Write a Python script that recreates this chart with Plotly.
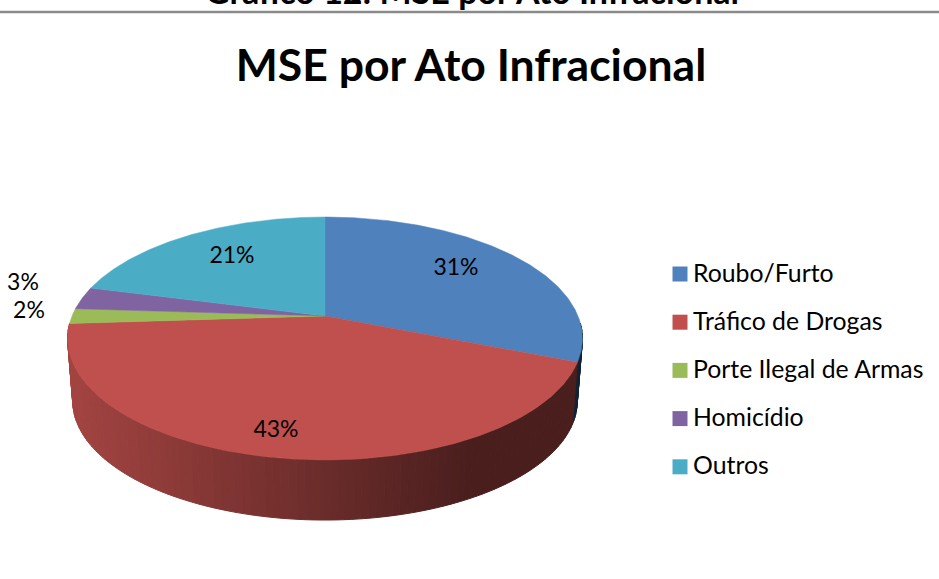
import numpy as np
import plotly.graph_objects as go

# ---- data ----
categories = ["Roubo/Furto", "Tráfico de Drogas", "Porte Ilegal de Armas", "Homicídio", "Outros"]
values = [31, 43, 2, 3, 21]
header_text = "Gráfico 12: MSE por Ato Infracional"
title_text = "MSE por Ato Infracional"

# ---- styles / layout constants ----
face_colors = ["#4f81bd", "#c0504d", "#9bbb59", "#8064a2", "#4bacc6"]
FONT = "Lato"
CX, CY, A, B, K = 325.0, 316.0, 253.0, 117.3, 0.185   # projected pie
WALL_DY, WALL_S = 63.0, 0.98
label_pos = [(456, 269), (276, 431), (29, 312), (23, 284), (232, 257)]
legend_x, legend_text_x, legend_y0, legend_dy = 680, 693, 274, 48.2
legend_text_dy = 1.5


def project(theta):
    u, v = np.sin(theta), np.cos(theta)
    w = 1 + K * v
    return CX + A * u / w, CY - B * v / w


def lower(x, y):
    return CX + (x - CX) * WALL_S, CY + WALL_DY + (y - CY) * WALL_S


def shade(rgb, x):
    """Darken wall colour from left to right like the 3-D lighting."""
    t = np.clip((x - 70) / 400, 0, 1)
    f = 0.85 + (0.385 - 0.85) * t
    return "rgb(%d,%d,%d)" % tuple(int(c * f) for c in rgb)


def to_rgb(h):
    return tuple(int(h[i:i + 2], 16) for i in (1, 3, 5))


fig = go.Figure()
total = sum(values)
edges = np.concatenate([[0], np.cumsum(values)]) / total * 2 * np.pi

# side wall
for i, col in enumerate(face_colors):
    n = max(2, int((edges[i + 1] - edges[i]) / np.radians(1.5)))
    th = np.linspace(edges[i], edges[i + 1], n + 1)
    for a, b in zip(th[:-1], th[1:]):
        if np.cos((a + b) / 2) > -0.065:
            continue
        x1, y1 = project(a)
        x2, y2 = project(b)
        x3, y3 = lower(x2, y2)
        x4, y4 = lower(x1, y1)
        c = shade(to_rgb(col) if i != 0 else (50, 90, 140), (x1 + x2) / 2)
        fig.add_trace(go.Scatter(x=[x1, x2, x3, x4, x1], y=[y1, y2, y3, y4, y1], mode="lines",
                                 fill="toself", fillcolor=c, line=dict(color=c, width=1),
                                 hoverinfo="skip", showlegend=False))

# top faces
for i, col in enumerate(face_colors):
    th = np.linspace(edges[i], edges[i + 1], 200)
    px, py = project(th)
    fig.add_trace(go.Scatter(x=np.r_[CX, px, CX], y=np.r_[CY, py, CY], mode="lines", fill="toself",
                             fillcolor=col, line=dict(color=col, width=0.5), name=categories[i],
                             showlegend=False, hoverinfo="name"))

# percent labels
fig.add_trace(go.Scatter(x=[p[0] for p in label_pos], y=[p[1] for p in label_pos], mode="text",
                         text=[f"{v}%" for v in values], textposition="middle center",
                         textfont=dict(family=FONT, size=23, color="black"),
                         hoverinfo="skip", showlegend=False))

# legend
ly = [legend_y0 + legend_dy * i for i in range(len(categories))]
fig.add_trace(go.Scatter(x=[legend_x] * 5, y=ly, mode="markers",
                         marker=dict(symbol="square", size=15, color=face_colors),
                         hoverinfo="skip", showlegend=False))
fig.add_trace(go.Scatter(x=[legend_text_x] * 5, y=[v + legend_text_dy for v in ly], mode="text", text=categories,
                         textposition="middle right", textfont=dict(family=FONT, size=24.8, color="black"),
                         hoverinfo="skip", showlegend=False))

fig.update_layout(
    width=939, height=579, margin=dict(l=0, r=0, t=0, b=0),
    paper_bgcolor="white", plot_bgcolor="white",
    xaxis=dict(range=[0, 939], visible=False, fixedrange=True),
    yaxis=dict(range=[579, 0], visible=False, fixedrange=True),
    title=dict(text=f"<b>{title_text}</b>", x=471 / 939, xanchor="center", xref="paper",
               y=1 - 65 / 579, yanchor="middle", yref="container",
               font=dict(family=FONT, size=44.5, color="black")),
    annotations=[dict(text=f"<b>{header_text}</b>", x=472, y=0, yshift=9.5, xref="x", yref="y", showarrow=False,
                      xanchor="center", yanchor="middle", font=dict(family=FONT, size=34, color="black"))],
    shapes=[dict(type="line", x0=0, x1=939, y0=12, y1=12, xref="x", yref="y",
                 line=dict(color="#8a8a8a", width=2.5))],
)
fig.write_html("out.html", config=dict(displayModeBar=False),
               post_script="document.body.style.margin='0';document.body.style.overflow='hidden';")
